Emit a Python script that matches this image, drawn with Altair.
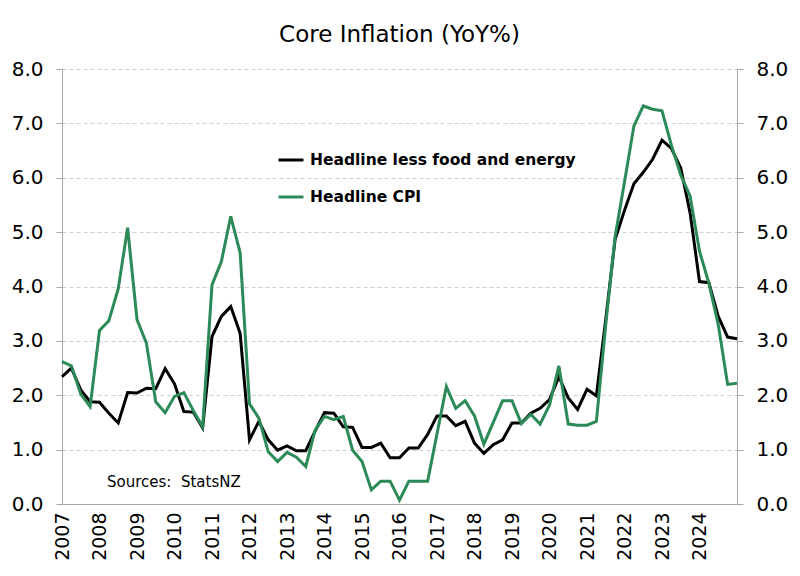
import altair as alt
import pandas as pd

# Quarterly observations (first point = 2006Q4, plotted at the "2007" label), last = 2024Q4
n_points = 73
quarter_pos = [2007 + i / 4 for i in range(n_points)]

core_less_food_energy = [
    2.34, 2.50, 2.10, 1.88, 1.87, 1.67, 1.49, 2.05, 2.04, 2.13,
    2.12, 2.49, 2.21, 1.70, 1.69, 1.40, 3.08, 3.45, 3.63, 3.14,
    1.18, 1.52, 1.18, 0.99, 1.07, 0.98, 0.98, 1.34, 1.68, 1.67,
    1.42, 1.41, 1.04, 1.04, 1.12, 0.85, 0.85, 1.03, 1.03, 1.28,
    1.62, 1.62, 1.44, 1.52, 1.12, 0.93, 1.09, 1.18, 1.49, 1.49,
    1.67, 1.76, 1.92, 2.34, 1.95, 1.74, 2.11, 1.99, 3.40, 4.87,
    5.40, 5.89, 6.10, 6.34, 6.69, 6.54, 6.18, 5.35, 4.09, 4.07,
    3.45, 3.07, 3.04,
]

headline_cpi = [
    2.62, 2.54, 2.02, 1.79, 3.19, 3.37, 3.96, 5.08, 3.39, 2.96,
    1.88, 1.68, 1.98, 2.05, 1.72, 1.42, 4.03, 4.46, 5.29, 4.62,
    1.84, 1.58, 0.96, 0.78, 0.95, 0.86, 0.69, 1.36, 1.61, 1.55,
    1.61, 0.99, 0.78, 0.26, 0.42, 0.42, 0.07, 0.42, 0.42, 0.42,
    1.29, 2.16, 1.76, 1.90, 1.62, 1.10, 1.50, 1.90, 1.90, 1.48,
    1.65, 1.47, 1.82, 2.54, 1.47, 1.45, 1.45, 1.52, 3.30, 4.92,
    5.92, 6.95, 7.32, 7.26, 7.23, 6.60, 6.05, 5.66, 4.65, 4.06,
    3.30, 2.20, 2.22,
]

series_names = ["Headline less food and energy", "Headline CPI"]
series_colors = ["#000000", "#2b8a57"]
year_labels = list(range(2007, 2025))
y_ticks = [0, 1, 2, 3, 4, 5, 6, 7, 8]

df = pd.concat([
    pd.DataFrame({"t": quarter_pos, "value": core_less_food_energy, "series": series_names[0]}),
    pd.DataFrame({"t": quarter_pos, "value": headline_cpi, "series": series_names[1]}),
])

notes = pd.DataFrame({"t": [2008.2], "value": [0.4], "label": ["Sources:\u00a0 StatsNZ"]})

FONT = "DejaVu Sans"
AXIS_GREY = "#a6a6a6"
x_scale = alt.Scale(domain=[2007, 2025], nice=False, zero=False)

x_enc = alt.X(
    "t:Q",
    scale=x_scale,
    axis=alt.Axis(
        values=year_labels, format="d", labelAngle=-90, title=None, ticks=False,
        grid=False, labelFontSize=19, labelFont=FONT, labelColor="black",
        labelPadding=8, domainColor=AXIS_GREY, labelOverlap=False,
        labelFlush=False, labelBound=False,
    ),
)

color_enc = alt.Color(
    "series:N",
    scale=alt.Scale(domain=series_names, range=series_colors),
    legend=alt.Legend(
        title=None, orient="none", legendX=215, legendY=77, direction="vertical",
        symbolType="stroke", symbolSize=625, symbolStrokeWidth=3,
        labelFontSize=15.5, labelFont=FONT, labelFontWeight="bold", labelColor="black",
        rowPadding=14, padding=0, labelOffset=5, labelLimit=0,
    ),
)

left = alt.Chart(df).transform_filter(
    alt.datum.series == series_names[0]
).mark_line(strokeWidth=3).encode(
    x=x_enc,
    y=alt.Y(
        "value:Q",
        scale=alt.Scale(domain=[0, 8], nice=False),
        axis=alt.Axis(
            orient="left", values=y_ticks, format=".1f", title=None, grid=True,
            gridColor="#cfcfcf", gridDash=[4, 3], tickSize=6, tickColor=AXIS_GREY,
            domainColor=AXIS_GREY, labelFontSize=20, labelFont=FONT,
            labelColor="black", labelPadding=13,
        ),
    ),
    color=color_enc,
)

right = alt.Chart(df).transform_filter(
    alt.datum.series == series_names[1]
).mark_line(strokeWidth=3).encode(
    x=x_enc,
    y=alt.Y(
        "value:Q",
        scale=alt.Scale(domain=[0, 8], nice=False),
        axis=alt.Axis(
            orient="right", values=y_ticks, format=".1f", title=None, grid=False,
            tickSize=6, tickColor=AXIS_GREY, domainColor=AXIS_GREY,
            labelFontSize=20, labelFont=FONT, labelColor="black", labelPadding=13,
        ),
    ),
    color=color_enc,
)

note = alt.Chart(notes).mark_text(
    align="left", baseline="middle", font=FONT, fontSize=15, color="black"
).encode(
    x=x_enc,
    y=alt.Y("value:Q", scale=alt.Scale(domain=[0, 8], nice=False), axis=None),
    text="label:N",
)

chart = alt.layer(left, right, note).resolve_scale(y="independent").properties(
    width=675,
    height=435,
    autosize=alt.AutoSizeParams(type="none"),
    padding={"left": 54, "top": 61, "right": 55, "bottom": 64},
    title=alt.TitleParams(
        "Core Inflation (YoY%)", font=FONT, fontSize=23, fontWeight="normal",
        color="black", anchor="middle", offset=12,
    ),
).configure_view(stroke=None)

chart.save("out.html", embed_options={"renderer": "svg", "actions": False})
